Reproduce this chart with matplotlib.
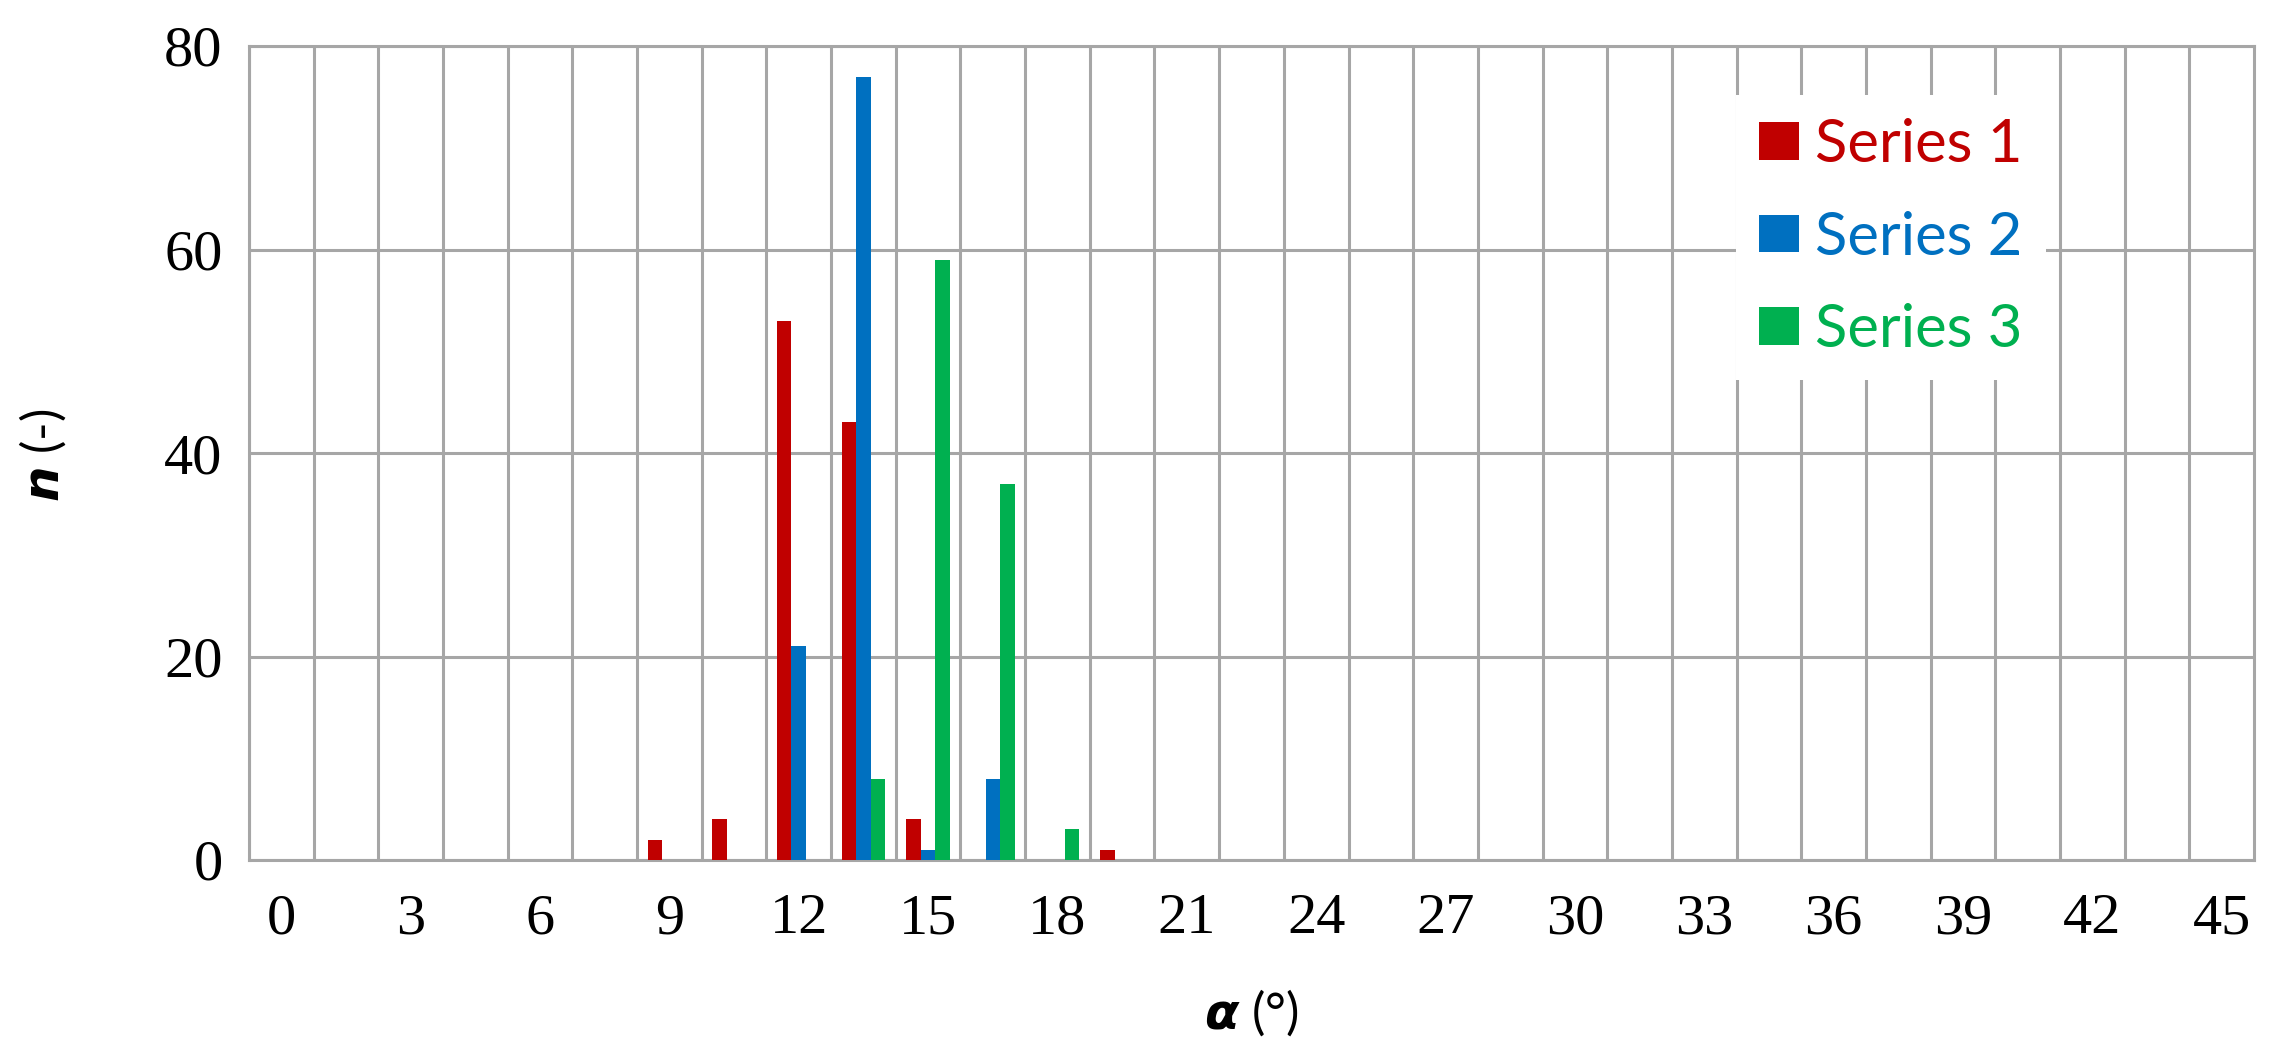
import matplotlib.pyplot as plt
import numpy as np

# categories: alpha in steps of 1.5 deg, labels on every second one
alpha = [i * 1.5 for i in range(31)]
tick_labels = ["0", "3", "6", "9", "12", "15", "18", "21", "24", "27", "30",
               "33", "36", "39", "42", "45"]

# counts per class (only non-zero classes listed, rest 0)
series1 = {9.0: 2, 10.5: 4, 12.0: 53, 13.5: 43, 15.0: 4, 19.5: 1}
series2 = {12.0: 21, 13.5: 77, 15.0: 1, 16.5: 8}
series3 = {13.5: 8, 15.0: 59, 16.5: 37, 18.0: 3}
names = ["Series 1", "Series 2", "Series 3"]
colors = ["#C00000", "#0070C0", "#00B050"]

grid_col = "#A6A6A6"

plt.rcParams['mathtext.fontset'] = 'custom'
plt.rcParams['mathtext.rm'] = 'Lato'
plt.rcParams['mathtext.bfit'] = 'DejaVu Sans:italic:bold'

fig = plt.figure(figsize=(22.81, 10.56), dpi=100)
ax = fig.add_axes([249 / 2281, 1 - 860 / 1056, 2005 / 2281, 814 / 1056])

x = np.arange(len(alpha))
w = 0.225
for k, s in enumerate([series1, series2, series3]):
    vals = [s.get(a, 0) for a in alpha]
    ax.bar(x + (k - 1) * w, vals, w, color=colors[k], label=names[k], zorder=3, linewidth=0)

ax.set_xlim(-0.5, len(alpha) - 0.5)
ax.set_ylim(0, 80)
ax.set_yticks([0, 20, 40, 60, 80])
ax.set_xticks(x[::2])
ax.set_xticklabels(tick_labels)
ax.set_xticks(x - 0.5, minor=True)
ax.grid(which='minor', axis='x', color=grid_col, linewidth=2.2, zorder=0)
ax.grid(which='major', axis='y', color=grid_col, linewidth=2.2, zorder=0)
ax.set_axisbelow(True)
for sp in ax.spines.values():
    sp.set_color(grid_col)
    sp.set_linewidth(2.2)
ax.tick_params(which='both', length=0)
ax.tick_params(axis='x', pad=24)
ax.tick_params(axis='y', pad=19)
for lab in ax.get_xticklabels() + ax.get_yticklabels():
    lab.set_fontfamily('Liberation Serif')
    lab.set_fontsize(42)

ax.set_xlabel(r"$\mathbfit{\alpha}$ (°)", fontsize=36, family='Lato', va='center')
ax.xaxis.set_label_coords(0.5, -0.188)
ax.set_ylabel(r"$\mathbfit{n}$ (-)", fontsize=36, family='Lato', va='center')
ax.yaxis.set_label_coords(-0.103, 0.4975)

leg = ax.legend(loc='upper left', bbox_to_anchor=(1736 / 2281, 1 - 95 / 1056),
                bbox_transform=fig.transFigure, prop={'family': 'Lato', 'size': 43},
                frameon=True, fancybox=False, framealpha=1, edgecolor='none',
                handlelength=0.68, handleheight=0.6, handletextpad=0.27,
                borderpad=0.38, labelspacing=0.65, borderaxespad=0)
for t, c in zip(leg.get_texts(), colors):
    t.set_color(c)

fig.savefig("out.png", dpi=100, facecolor='white')
